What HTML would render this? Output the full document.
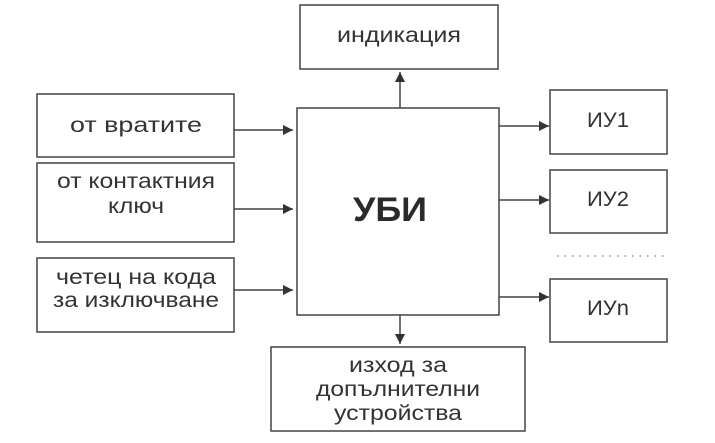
<!DOCTYPE html>
<html><head><meta charset="utf-8"><style>
html,body{margin:0;padding:0;background:#fff;}
svg{display:block;}
text{font-family:"Liberation Sans","DejaVu Sans",sans-serif;font-size:21px;fill:#333;}
</style></head><body>
<svg width="715" height="443" viewBox="0 0 715 443" xmlns="http://www.w3.org/2000/svg">
<defs><marker id="a" viewBox="0 0 10 10" refX="10" refY="5" markerWidth="10" markerHeight="10" markerUnits="userSpaceOnUse" orient="auto"><path d="M0,0L10,5L0,10z" fill="#333"/></marker></defs>
<g fill="none" stroke="#444" stroke-width="1.5">
<rect x="37" y="94" width="197" height="63"/>
<rect x="37" y="163" width="197" height="79"/>
<rect x="37" y="258" width="197" height="74"/>
<rect x="297" y="108" width="202" height="207"/>
<rect x="300" y="5" width="198" height="64"/>
<rect x="271" y="347" width="254" height="84"/>
<rect x="550" y="90" width="117" height="64"/>
<rect x="550" y="170" width="117" height="63"/>
<rect x="550" y="279" width="117" height="63"/>
</g>
<g stroke="#444" stroke-width="1.5" marker-end="url(#a)">
<line x1="234" y1="130" x2="293" y2="130"/>
<line x1="234" y1="209" x2="293" y2="209"/>
<line x1="234" y1="290" x2="293" y2="290"/>
<line x1="499" y1="126" x2="549" y2="126"/>
<line x1="499" y1="200" x2="549" y2="200"/>
<line x1="499" y1="297" x2="549" y2="297"/>
<line x1="400" y1="108" x2="400" y2="72"/>
<line x1="400" y1="315" x2="400" y2="344"/>
</g>
<line x1="557" y1="256" x2="666" y2="256" stroke="#777" stroke-width="1.3" stroke-dasharray="1.5 6"/>
<g text-anchor="middle">
<text x="136" y="132" textLength="132" lengthAdjust="spacingAndGlyphs">от вратите</text>
<text x="136" y="188" textLength="158" lengthAdjust="spacingAndGlyphs">от контактния</text>
<text x="136" y="213" textLength="56" lengthAdjust="spacingAndGlyphs">ключ</text>
<text x="136" y="284" textLength="160" lengthAdjust="spacingAndGlyphs">четец на кода</text>
<text x="136" y="307" textLength="166" lengthAdjust="spacingAndGlyphs">за изключване</text>
<text x="399" y="42" textLength="124" lengthAdjust="spacingAndGlyphs">индикация</text>
<text x="608" y="127" textLength="42" lengthAdjust="spacingAndGlyphs">ИУ1</text>
<text x="608" y="206" textLength="42" lengthAdjust="spacingAndGlyphs">ИУ2</text>
<text x="608" y="315" textLength="42" lengthAdjust="spacingAndGlyphs">ИУn</text>
<text x="398" y="372" textLength="98" lengthAdjust="spacingAndGlyphs">изход за</text>
<text x="398" y="396" textLength="164" lengthAdjust="spacingAndGlyphs">допълнителни</text>
<text x="398" y="420" textLength="128" lengthAdjust="spacingAndGlyphs">устройства</text>
<text x="390" y="221" style="font-size:34px;font-weight:bold;fill:#2a2a2a" textLength="74" lengthAdjust="spacingAndGlyphs">УБИ</text>
</g>
</svg>
</body></html>
